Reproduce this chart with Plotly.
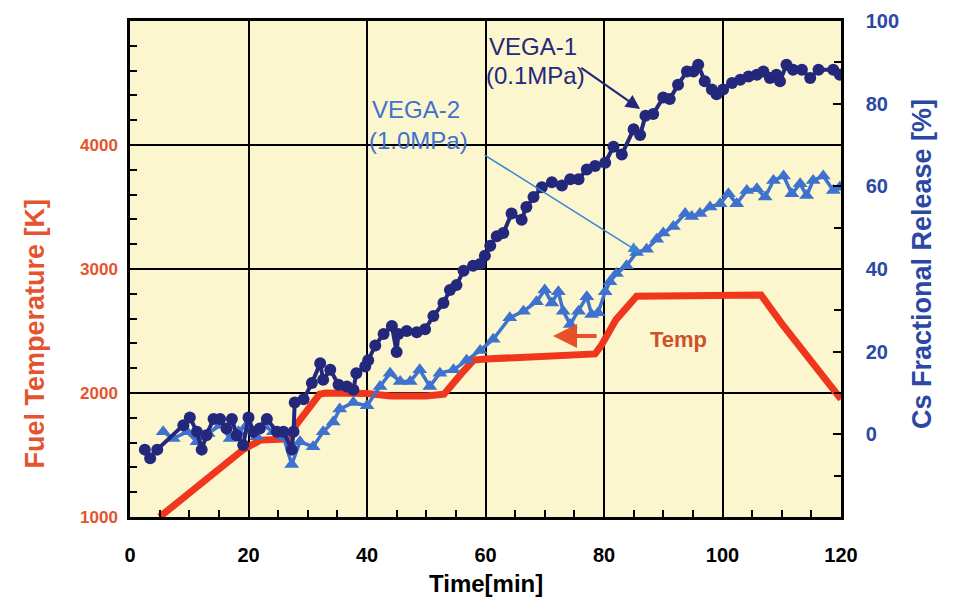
import plotly.graph_objects as go

# ---------------- data ----------------
temp_t = [5, 10, 15, 19, 22, 27, 28, 30, 32, 33, 40, 44, 50, 53, 54, 56, 58, 60, 65, 70, 75,
          78.5, 79.5, 82, 85.5, 90, 93, 95, 100, 106.5, 110, 115, 120]
temp_K = [1000, 1190, 1390, 1540, 1620, 1630, 1740, 1860, 1990, 2000, 1995, 1975, 1975, 1990,
          2050, 2160, 2265, 2275, 2285, 2295, 2305, 2315, 2380, 2590, 2780, 2780, 2790, 2790,
          2790, 2790, 2560, 2250, 1950]

v1_t = [2.5, 3.4, 4.6, 9.0, 10.1, 11.3, 12.1, 12.9, 14.1, 15.2, 16.3, 17.2, 18.0, 19.1, 20.0,
        20.8, 21.9, 23.1, 24.8, 25.9, 27.3, 27.6, 27.8, 29.3, 30.7, 32.1, 32.6, 33.8, 35.2,
        36.6, 37.7, 38.2, 39.7, 40.2, 41.4, 42.8, 44.2, 45.0, 45.3, 46.7, 48.4, 49.8, 51.2,
        52.9, 54.0, 55.1, 56.3, 57.9, 59.1, 59.9, 60.8, 61.9, 63.0, 64.4, 66.1, 66.9, 68.1,
        69.5, 71.2, 72.9, 74.3, 75.7, 77.1, 78.5, 80.2, 81.6, 83.0, 85.0, 86.1, 87.0, 88.3,
        90.0, 91.1, 92.5, 94.0, 95.1, 95.9, 97.0, 98.2, 99.0, 100.1, 101.6, 103.0, 104.4,
        105.8, 106.9, 108.0, 109.1, 109.7, 110.8, 111.9, 113.4, 114.8, 116.2, 118.7, 119.8]
v1_r = [-3.7, -5.8, -3.7, 2.2, 4.1, 0.6, -3.7, -0.2, 3.7, 3.7, 1.4, 3.7, -0.2, -2.6, 4.1,
        0.6, 1.4, 3.7, 0.6, 0.6, -3.7, 0.6, 7.7, 8.5, 12.4, 17.2, 13.2, 15.6, 12.0,
        11.6, 10.8, 14.8, 16.4, 17.9, 21.5, 24.3, 26.2, 19.9, 24.3, 25.0, 24.7, 25.4, 28.6,
        31.8, 34.9, 36.1, 39.6, 40.8, 41.2, 43.2, 45.6, 47.9, 48.7, 53.4, 51.9, 55.0, 57.4,
        59.8, 61.0, 60.2, 61.7, 61.7, 64.1, 64.9, 65.7, 69.6, 67.7, 73.8, 72.4, 77.1, 77.5,
        81.5, 81.1, 84.6, 87.8, 87.8, 89.4, 85.4, 83.4, 82.3, 83.4, 85.0, 85.8, 86.6,
        87.0, 87.8, 86.2, 87.0, 85.4, 89.4, 88.2, 88.2, 86.2, 88.2, 88.2, 87.0]

v2_t = [5.6, 7.3, 9.6, 11.3, 13.2, 15.2, 16.9, 18.3, 19.7, 21.4, 22.5, 24.2, 25.9, 27.3, 28.7,
        30.9, 32.6, 34.3, 35.4, 37.7, 40.0, 42.2, 43.9, 45.6, 47.3, 48.9, 50.6, 52.3, 54.6,
        56.8, 59.1, 61.3, 64.1, 66.4, 68.6, 70.0, 71.2, 72.3, 73.1, 74.3, 75.7, 77.1, 77.9,
        79.0, 80.2, 81.0, 82.1, 83.8, 85.5, 87.2, 88.9, 90.0, 91.7, 93.7, 94.8, 96.2, 97.9,
        99.6, 101.0, 102.4, 104.1, 105.8, 107.2, 108.6, 110.3, 111.7, 113.1, 114.2, 115.3,
        117.0, 118.7, 119.8]
v2_r = [0.6, -1.0, 0.6, -1.8, 0.2, 2.2, -1.0, 0.6, 2.2, -0.6, 2.2, 0.6, -0.6, -7.3, -1.8,
        -3.0, 0.6, 3.0, 6.1, 7.7, 6.9, 11.6, 14.8, 12.8, 12.8, 15.6, 11.6, 14.8, 15.6,
        17.9, 20.3, 23.0, 28.2, 29.8, 32.1, 34.9, 31.8, 34.5, 29.8, 26.6, 29.8, 33.3, 29.0,
        29.4, 34.5, 36.9, 38.9, 40.8, 44.0, 44.8, 47.2, 48.7, 50.3, 53.4, 52.7, 53.4, 55.0,
        55.8, 58.2, 55.8, 59.0, 59.4, 57.4, 61.4, 62.5, 58.2, 60.6, 57.8, 61.4,
        62.5, 59.0, 59.8]

x_ticks = [0, 20, 40, 60, 80, 100, 120]
temp_ticks = [1000, 2000, 3000, 4000]
rel_ticks = [0, 20, 40, 60, 80, 100]

# ---------------- styles ----------------
FONT = "Liberation Sans, Arial, sans-serif"
RED = "#F0361C"
RED_TXT = "#E4542E"
NAVY = "#24287C"
BLUE = "#3E72CE"
BLUE_TXT = "#2A48A4"
BG = "#FBF6CE"

fig = go.Figure()

fig.add_trace(go.Scatter(x=temp_t, y=temp_K, mode="lines", name="Temp",
                         line=dict(color=RED, width=7), yaxis="y"))
fig.add_trace(go.Scatter(x=v2_t, y=v2_r, mode="lines+markers", name="VEGA-2",
                         line=dict(color=BLUE, width=3.5),
                         marker=dict(symbol="triangle-up", size=13, color=BLUE),
                         yaxis="y2"))
fig.add_trace(go.Scatter(x=v1_t, y=v1_r, mode="lines+markers", name="VEGA-1",
                         line=dict(color=NAVY, width=4),
                         marker=dict(symbol="circle", size=12, color=NAVY),
                         yaxis="y2"))

fig.update_layout(
    width=953, height=605,
    margin=dict(l=130, r=112, t=10, b=88),
    paper_bgcolor="white", plot_bgcolor=BG,
    showlegend=False,
    font=dict(family=FONT),
    xaxis=dict(range=[0, 120], tickvals=x_ticks, ticks="inside", ticklen=8, tickwidth=2,
               tickcolor="black", showgrid=True, gridcolor="black", gridwidth=1.5,
               showline=True, linecolor="black", linewidth=2.5, mirror=True,
               zeroline=False, ticklabelstandoff=18,
               tickfont=dict(size=20, color="black", family=FONT, weight="bold"),
               minor=dict(dtick=5, tick0=0, ticks="inside", ticklen=7, tickwidth=2,
                          tickcolor="black", showgrid=False)),
    yaxis=dict(range=[1000, 5000], tickvals=temp_ticks, ticks="inside", ticklen=8,
               tickwidth=2, tickcolor="black", showgrid=True, gridcolor="black",
               gridwidth=1.5, showline=True, linecolor="black", linewidth=2.5,
               zeroline=False, ticklabelstandoff=6,
               tickfont=dict(size=17, color=RED_TXT, family=FONT, weight="bold"),
               minor=dict(dtick=200, tick0=1000, ticks="inside", ticklen=7, tickwidth=2,
                          tickcolor="black", showgrid=False)),
    yaxis2=dict(range=[-20, 100], tickvals=rel_ticks, overlaying="y", side="right",
                ticks="inside", ticklen=8, tickwidth=2, tickcolor="black",
                showgrid=False, showline=True, linecolor="black", linewidth=2.5,
                zeroline=False, ticklabelstandoff=18,
                tickfont=dict(size=20, color=BLUE_TXT, family=FONT, weight="bold"),
                minor=dict(dtick=10, tick0=-20, ticks="inside", ticklen=7, tickwidth=2,
                           tickcolor="black", showgrid=False)),
)

ann = []
# axis titles
ann.append(dict(text="Fuel Temperature [K]", xref="paper", yref="paper", x=0, y=0.37,
                xshift=-112, textangle=-90, showarrow=False,
                font=dict(size=27, color=RED_TXT, family=FONT, weight="bold")))
ann.append(dict(text="Cs Fractional Release [%]", xref="paper", yref="paper", x=1, y=0.51,
                xshift=98, textangle=-90, showarrow=False,
                font=dict(size=27, color=BLUE_TXT, family=FONT, weight="bold")))
ann.append(dict(text="Time[min]", xref="paper", yref="paper", x=0.5, y=0, yshift=-66,
                showarrow=False, yanchor="middle",
                font=dict(size=24, color="black", family=FONT, weight="bold")))
# series labels
ann.append(dict(text="VEGA-1", x=60.3, y=93.8, xref="x", yref="y2", xanchor="left",
                showarrow=False, font=dict(size=24, color=NAVY, family=FONT)))
ann.append(dict(text="(0.1MPa)", x=59.8, y=86.8, xref="x", yref="y2", xanchor="left",
                showarrow=False, font=dict(size=24, color=NAVY, family=FONT)))
ann.append(dict(text="VEGA-2", x=40.5, y=78.5, xref="x", yref="y2", xanchor="left",
                showarrow=False, font=dict(size=24, color=BLUE, family=FONT)))
ann.append(dict(text="(1.0MPa)", x=40.0, y=71.2, xref="x", yref="y2", xanchor="left",
                showarrow=False, font=dict(size=24, color=BLUE, family=FONT)))
ann.append(dict(text="Temp", x=87.5, y=2430, xref="x", yref="y", xanchor="left",
                showarrow=False, font=dict(size=22, color="#D0502C", family=FONT, weight="bold")))
# arrows
ann.append(dict(text="", x=86.1, y=78.7, ax=75.9, ay=88.9, xref="x", yref="y2",
                axref="x", ayref="y2", showarrow=True, arrowhead=2, arrowsize=1.3,
                arrowwidth=2.2, arrowcolor=NAVY))
ann.append(dict(text="", x=86.1, y=43.9, ax=59.6, ay=67.8, xref="x", yref="y2",
                axref="x", ayref="y2", showarrow=True, arrowhead=2, arrowsize=1.5,
                arrowwidth=1.5, arrowcolor="#3A86D4"))
ann.append(dict(text="", x=71.4, y=2460, ax=79.0, ay=2460, xref="x", yref="y",
                axref="x", ayref="y", showarrow=True, arrowhead=2, arrowsize=1.2,
                arrowwidth=4, arrowcolor="#E8502A"))
fig.update_layout(annotations=ann)

fig.write_html("out.html")
